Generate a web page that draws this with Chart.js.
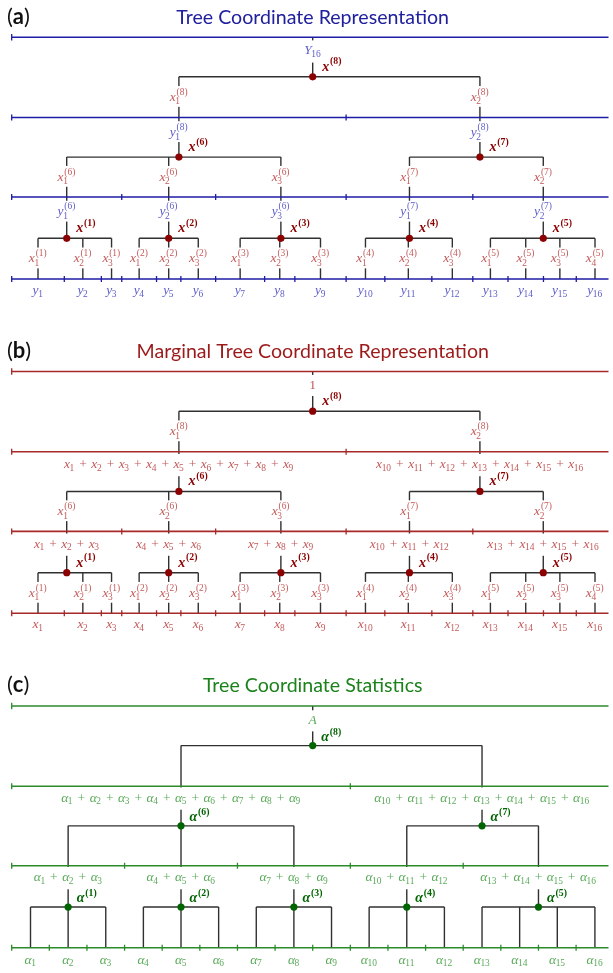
<!DOCTYPE html>
<html>
<head>
<meta charset="utf-8">
<script src="https://cdn.jsdelivr.net/npm/chart.js@4.4.1/dist/chart.umd.min.js"></script>
<style>
  html, body { margin: 0; padding: 0; background: #fff; }
  #wrap { width: 613px; height: 973px; position: relative; }
</style>
</head>
<body>
<div id="wrap"><canvas id="treeChart"></canvas></div>
<script>
// interval widths of the 16 leaves, panels (a) and (b)
const leafWidths = [53.4, 37.6, 20.7, 35.3, 24.7, 35.3, 49.7, 30.7, 52.0, 39.3, 47.7, 41.6, 35.7, 36.0, 33.3, 38.0];
// panel (c) uses equal widths
const statWidths = [1, 1, 1, 1, 1, 1, 1, 1, 1, 1, 1, 1, 1, 1, 1, 1];
// tree: leaves -> nodes 1..5, nodes 1..5 -> nodes 6,7, nodes 6,7 -> root 8
const leafGroups = [[1, 2, 3], [4, 5, 6], [7, 8, 9], [10, 11, 12], [13, 14, 15, 16]];
const midGroups = [[1, 2, 3], [4, 5]];
const midNodeIds = [6, 7];
const rootNodeId = 8;
const panelTags = ['a', 'b', 'c'];
const panelTitles = ['Tree Coordinate Representation', 'Marginal Tree Coordinate Representation', 'Tree Coordinate Statistics'];
const leafSymbols = ['y', 'x', 'α'];
const nodeSymbols = ['x', 'x', 'α'];
const rootLabels = [{ b: 'Y', sub: '16', cap: true }, { b: '1', up: true, cap: true }, { b: 'A', cap: true }];

// layout (pixels)
const CANVAS_W = 613, CANVAS_H = 973, X0 = 7.3, SPAN = 611;
const PANEL_DY = 337.5;
const AXIS_Y = [33, 114, 194.3, 277];
const NODE_Y = [73, 154, 236];
const TITLE_BASE = 19.3;
const MF = '"Liberation Serif", "DejaVu Serif", serif';
const SF = 'Lato, "Open Sans", sans-serif';
const LINE = '#303030';
const LABEL_SIZE = 13.5;

const styles = [
    { title: '#20209e', axis: '#1c1ca6', label: '#5d5dca', child: '#c45a5a', node: '#8b0000', labelDy: [12.8, 15.5, 15.5, 12.5] },
    { title: '#9c1a1a', axis: '#a62828', label: '#c45a5a', child: '#c45a5a', node: '#8b0000', labelDy: [13, 13.3, 13.3, 12] },
    { title: '#1c821c', axis: '#2b8b2b', label: '#5aaa5a', child: null, node: '#006400', labelDy: [14, 12.4, 12.4, 13] }
];

function buildLayout(widths) {
    const total = widths.reduce((a, b) => a + b, 0);
    const bounds = [0];
    let acc = 0;
    widths.forEach(w => { acc += w; bounds.push(acc / total); });
    const leafX = widths.map((w, i) => (bounds[i] + bounds[i + 1]) / 2);
    const groupSpan = leafGroups.map(g => [bounds[g[0] - 1], bounds[g[g.length - 1]]]);
    const groupX = groupSpan.map(s => (s[0] + s[1]) / 2);
    const midSpan = midGroups.map(g => [groupSpan[g[0] - 1][0], groupSpan[g[g.length - 1] - 1][1]]);
    const midX = midSpan.map(s => (s[0] + s[1]) / 2);
    const rootX = (midSpan[0][0] + midSpan[midSpan.length - 1][1]) / 2;
    return { bounds, leafX, groupSpan, groupX, midSpan, midX, rootX };
}

function seg(x1, y1, x2, y2, color, width, order) {
    return {
        data: [{ x: x1, y: y1 }, { x: x2, y: y2 }],
        showLine: true, borderColor: color, borderWidth: width,
        pointRadius: 0, pointHoverRadius: 0, order: order
    };
}

function term(sym, sub, sup, extra) {
    return Object.assign({ b: sym, sub: sub, sup: sup }, extra || {});
}

function sumItems(sym, leaves) {
    const items = [];
    leaves.forEach((l, i) => {
        if (i > 0) items.push({ op: '+' });
        items.push(term(sym, String(l)));
    });
    return items;
}

const datasets = [];
const labels = [];
const nodeLabels = [];
const titles = [];

[leafWidths, leafWidths, statWidths].forEach((widths, p) => {
    const L = buildLayout(widths);
    const st = styles[p];
    const oy = p * PANEL_DY;
    const ay = AXIS_Y.map(v => v + oy);
    const ny = NODE_Y.map(v => v + oy);
    const sym = leafSymbols[p];
    const nsym = nodeSymbols[p];

    titles.push({ tag: panelTags[p], text: panelTitles[p], y: TITLE_BASE + oy, color: st.title });

    // black tree lines
    datasets.push(seg(L.rootX, ay[0], L.rootX, ny[0], LINE, 1.4, 3));
    datasets.push(seg(L.midX[0], ny[0], L.midX[L.midX.length - 1], ny[0], LINE, 1.4, 3));
    midGroups.forEach((g, m) => {
        datasets.push(seg(L.midX[m], ny[0], L.midX[m], ny[1], LINE, 1.4, 3));
        datasets.push(seg(L.groupX[g[0] - 1], ny[1], L.groupX[g[g.length - 1] - 1], ny[1], LINE, 1.4, 3));
    });
    leafGroups.forEach((g, k) => {
        datasets.push(seg(L.groupX[k], ny[1], L.groupX[k], ny[2], LINE, 1.4, 3));
        datasets.push(seg(L.leafX[g[0] - 1], ny[2], L.leafX[g[g.length - 1] - 1], ny[2], LINE, 1.4, 3));
        g.forEach(l => datasets.push(seg(L.leafX[l - 1], ny[2], L.leafX[l - 1], ay[3], LINE, 1.4, 3)));
    });

    // axes and their ticks
    const tickSets = [
        [0],
        [0].concat(L.midSpan.map(s => s[1])),
        [0].concat(L.groupSpan.map(s => s[1])),
        L.bounds
    ];
    ay.forEach((y, k) => {
        datasets.push(seg(0, y, 1.05, y, st.axis, 1.6, 2));
        datasets.push({
            data: tickSets[k].map(x => ({ x: x, y: y })),
            showLine: false, pointStyle: 'line', pointRotation: 90,
            pointRadius: k === 0 ? 3.2 : 3, pointHoverRadius: 3,
            pointBorderColor: st.axis, pointBorderWidth: 1.3, order: 1
        });
    });

    // node dots
    const nodes = [{ x: L.rootX, y: ny[0] }]
        .concat(L.midX.map(x => ({ x: x, y: ny[1] })))
        .concat(L.groupX.map(x => ({ x: x, y: ny[2] })));
    datasets.push({
        data: nodes, showLine: false, pointStyle: 'circle', pointRadius: 3.6, pointHoverRadius: 3.6,
        pointBackgroundColor: st.node, pointBorderColor: st.node, pointBorderWidth: 0, order: 0
    });

    // node labels (drawn last)
    const nodeIds = [rootNodeId].concat(midNodeIds).concat(leafGroups.map((g, i) => i + 1));
    nodes.forEach((n, i) => {
        nodeLabels.push({
            items: [term(nsym, null, '(' + nodeIds[i] + ')', { bold: true })],
            x: n.x, y: n.y - (p === 2 ? 8 : 9.5), dx: p === 2 ? 8.5 : 9.5, left: true,
            color: st.node, size: 14, bg: false
        });
    });

    // axis labels
    const lab = (items, x, y) => labels.push({ items: items, x: x, y: y, color: st.label, size: LABEL_SIZE, bg: true });
    lab([rootLabels[p]], L.rootX, ay[0] + st.labelDy[0]);
    if (p === 0) {
        L.midX.forEach((x, m) => lab([term(sym, String(m + 1), '(' + rootNodeId + ')')], x, ay[1] + st.labelDy[1]));
        midGroups.forEach((g, m) => g.forEach((gi, k) =>
            lab([term(sym, String(k + 1), '(' + midNodeIds[m] + ')')], L.groupX[gi - 1], ay[2] + st.labelDy[2])));
    } else {
        midGroups.forEach((g, m) => {
            const leaves = [];
            g.forEach(gi => leaves.push(...leafGroups[gi - 1]));
            lab(sumItems(sym, leaves), L.midX[m], ay[1] + st.labelDy[1]);
        });
        leafGroups.forEach((g, k) => lab(sumItems(sym, g), L.groupX[k], ay[2] + st.labelDy[2]));
    }
    L.leafX.forEach((x, i) => lab([term(sym, String(i + 1))], x, ay[3] + st.labelDy[3]));

    // child coordinate labels above the axes
    if (st.child) {
        const clab = (items, x, y) => labels.push({ items: items, x: x, y: y, color: st.child, size: LABEL_SIZE, bg: true });
        L.midX.forEach((x, m) => clab([term('x', String(m + 1), '(' + rootNodeId + ')')], x, (ny[0] + ay[1]) / 2 + 0.5));
        midGroups.forEach((g, m) => g.forEach((gi, k) =>
            clab([term('x', String(k + 1), '(' + midNodeIds[m] + ')')], L.groupX[gi - 1], (ny[1] + ay[2]) / 2 + 0.5)));
        leafGroups.forEach((g, gk) => g.forEach((l, k) =>
            clab([term('x', String(k + 1), '(' + (gk + 1) + ')')], L.leafX[l - 1], (ny[2] + ay[3]) / 2 + 0.5)));
    }
});

function drawMath(ctx, lb, px, py) {
    const s = lb.size, ss = s * 0.7;
    const gap = s * 0.33;
    const parts = [];
    let x = 0, hasSup = false, hasSub = false, cap = false;
    lb.items.forEach(it => {
        if (it.op) {
            ctx.font = `${s}px ${MF}`;
            const g = ctx.measureText(it.op).width;
            parts.push({ t: it.op, font: ctx.font, x: x + gap, dy: 0 });
            x += g + 2 * gap;
            return;
        }
        const bw = it.bold ? 'bold ' : '';
        const baseFont = `${it.up ? '' : 'italic '}${bw}${s}px ${MF}`;
        ctx.font = baseFont;
        const wb = ctx.measureText(it.b).width;
        parts.push({ t: it.b, font: baseFont, x: x, dy: 0 });
        if (it.cap) cap = true;
        const scriptFont = `${bw}${ss}px ${MF}`;
        ctx.font = scriptFont;
        let ws = 0;
        if (it.sub) {
            hasSub = true;
            const wsub = ctx.measureText(it.sub).width;
            parts.push({ t: it.sub, font: scriptFont, x: x + wb - s * 0.03, dy: it.sup ? s * 0.27 : s * 0.2 });
            ws = Math.max(ws, wsub - s * 0.03);
        }
        if (it.sup) {
            hasSup = true;
            const wsup = ctx.measureText(it.sup).width;
            parts.push({ t: it.sup, font: scriptFont, x: x + wb + s * 0.06, dy: -s * 0.45 });
            ws = Math.max(ws, wsup + s * 0.06);
        }
        x += wb + ws + (ws ? s * 0.04 : 0);
    });
    const total = x;
    const left = lb.left ? px : px - total / 2;
    const base = py + (cap ? 0.34 : 0.23) * s;
    if (lb.bg) {
        const pad = hasSup ? 2 : 4;
        const top = hasSup ? base - s * 0.45 - ss * 0.7 : base - 0.75 * s;
        const bot = hasSub ? base + s * 0.27 + ss * 0.05 : base + 0.22 * s;
        ctx.fillStyle = '#ffffff';
        ctx.fillRect(left - 2, top - pad, total + 4, bot - top + 2 * pad);
    }
    ctx.fillStyle = lb.color;
    ctx.textBaseline = 'alphabetic';
    ctx.textAlign = 'left';
    parts.forEach(pt => {
        ctx.font = pt.font;
        ctx.fillText(pt.t, left + pt.x, base + pt.dy);
    });
}

const treeLabels = {
    id: 'treeLabels',
    afterDatasetsDraw(chart) {
        const ctx = chart.ctx;
        const xs = chart.scales.x, ys = chart.scales.y;
        ctx.save();
        labels.concat(nodeLabels).forEach(lb => {
            const px = xs.getPixelForValue(lb.x) + (lb.dx || 0);
            const py = ys.getPixelForValue(lb.y);
            drawMath(ctx, lb, px, py);
        });
        titles.forEach(t => {
            const py = ys.getPixelForValue(t.y);
            ctx.textBaseline = 'alphabetic';
            ctx.textAlign = 'left';
            ctx.fillStyle = '#111111';
            let x = 7;
            ctx.font = `22px ${SF}`;
            ctx.fillText('(', x, py); x += ctx.measureText('(').width;
            ctx.font = `bold 22px ${SF}`;
            ctx.fillText(t.tag, x, py); x += ctx.measureText(t.tag).width;
            ctx.font = `22px ${SF}`;
            ctx.fillText(')', x, py);
            ctx.textAlign = 'center';
            ctx.font = `19.6px ${SF}`;
            ctx.fillStyle = t.color;
            ctx.fillText(t.text, xs.getPixelForValue(0.5), py);
        });
        ctx.restore();
    }
};

new Chart(document.getElementById('treeChart'), {
    type: 'scatter',
    data: { datasets: datasets },
    options: {
        responsive: true,
        maintainAspectRatio: false,
        animation: false,
        events: [],
        layout: { padding: 0 },
        plugins: { legend: { display: false }, tooltip: { enabled: false } },
        scales: {
            x: { type: 'linear', display: false, min: -X0 / SPAN, max: (CANVAS_W - X0) / SPAN },
            y: { type: 'linear', display: false, min: 0, max: CANVAS_H, reverse: true }
        }
    },
    plugins: [treeLabels]
});
</script>
</body>
</html>
